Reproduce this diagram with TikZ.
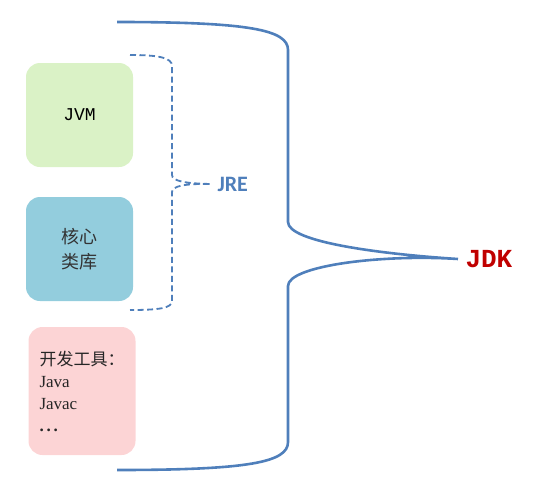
\documentclass[tikz,border=0pt]{standalone}
\usepackage{fontspec}
\setmainfont{Liberation Serif}
\setmonofont{Liberation Mono}
\newfontfamily\cjk{Noto Sans CJK SC}
\newfontfamily\labelfont{Carlito}
\usetikzlibrary{positioning}

\definecolor{jvmgreen}{HTML}{DAF2C6}
\definecolor{libblue}{HTML}{93CDDD}
\definecolor{toolpink}{HTML}{FCD4D5}
\definecolor{bracecol}{HTML}{4F7FBB}
\definecolor{jdkred}{HTML}{C00000}

\begin{document}
\begin{tikzpicture}[x=1pt, y=-1pt, node distance=130pt, on grid]

        \tikzstyle{part}=[rounded corners=14pt, minimum width=107pt, minimum height=104pt, inner sep=0pt, align=center]
        \tikzstyle{brace}=[draw=bracecol, line width=2.6pt]

        \useasboundingbox (0,0) rectangle (537,487);

        \node[part, fill=jvmgreen, font=\ttfamily\fontsize{18}{18}\selectfont] (jvm) at (79.5,115) {JVM};
        \node[part, fill=libblue, font=\cjk\fontsize{18}{25}\selectfont, text=black!80] (lib) [below of=jvm, yshift=-4pt] {核心\\类库};
        \node[part, fill=toolpink, minimum height=128pt, align=left, text=black!85,
              font=\fontsize{17}{22}\selectfont] (tools) at (82,391)
            {{\cjk 开发工具：}\\Java\\Javac\\\textbf{.\,.\,.}};

        \node[text=bracecol, font=\labelfont\bfseries\fontsize{22}{22}\selectfont, anchor=west] (jre) at (214,184) {JRE};
        \node[text=jdkred, font=\ttfamily\bfseries\fontsize{26}{26}\selectfont, anchor=west] (jdk) at (462,259) {JDK};

        % JRE brace
        \coordinate (jretip) at (jre.west);
        \draw[brace, line width=1.8pt, dash pattern=on 6pt off 3.5pt]
        (130,55) .. controls (160,55) and (172,58) .. (172,66) -- (172,175)
        .. controls (172,181) and (185,183.5) .. ([xshift=-3pt]jretip)
        .. controls (185,183.5) and (172,186) .. (172,192) -- (172,301)
        .. controls (172,308) and (160,310) .. (130,310);

        % JDK brace
        \coordinate (jdktip) at ([xshift=-4pt]jdk.west);
        \draw[brace]
        (117,22) .. controls (250,22) and (288,30) .. (288,50) -- (288,222)
        .. controls (288,242) and (380,254) .. (jdktip)
        .. controls (380,254) and (288,266) .. (288,286) -- (288,442)
        .. controls (288,462) and (250,470) .. (117,470);

\end{tikzpicture}
\end{document}
